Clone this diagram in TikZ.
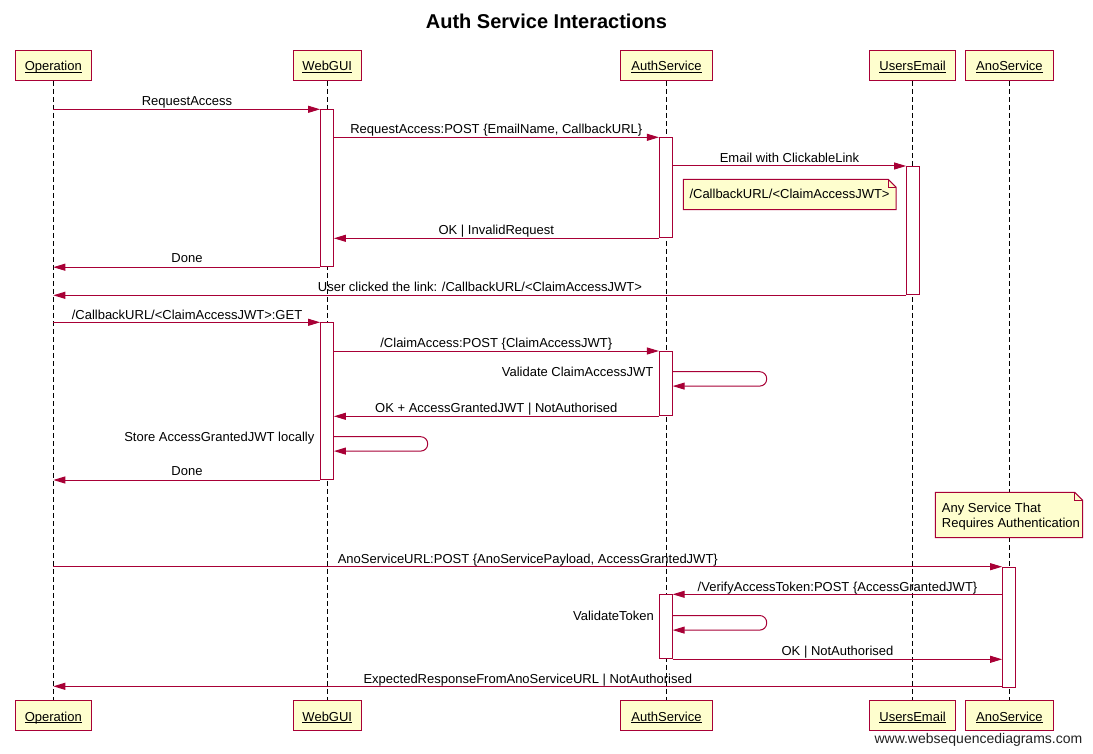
\documentclass[tikz,border=0pt]{standalone}
\usepackage{fontspec}
\setmainfont{Liberation Sans}
\usetikzlibrary{arrows.meta}
\definecolor{wsd}{HTML}{A80036}
\definecolor{wsdfill}{HTML}{FEFECE}
\definecolor{footgray}{HTML}{222222}
\newcommand\undl[1]{\setbox0\hbox{#1}\rlap{\rule[-1.9pt]{\wd0}{0.8pt}}\box0}
\tikzset{
  actor/.style={draw=wsd, fill=wsdfill, line width=1pt, minimum height=30.3pt,
    inner sep=0pt, text height=13pt, text depth=1.4pt, font=\fontsize{13}{15}\selectfont},
  lifeline/.style={draw=black, dash pattern=on 5pt off 3pt, line width=1pt},
  actbar/.style={draw=wsd, fill=white, line width=1pt, minimum width=12.8pt,
    inner sep=0pt, anchor=north},
  msg/.style={draw=wsd, line width=1pt, -{Triangle[length=12pt,width=7pt]}},
  lbl/.style={font=\fontsize{13}{15}\selectfont, inner sep=0pt, anchor=base},
  notebox/.style={draw=none, inner sep=0pt, anchor=north west},
  notedraw/.style={draw=wsd, fill=wsdfill, line width=1pt},
  foldline/.style={draw=wsd, line width=0.8pt},
}
\begin{document}
\begin{tikzpicture}[x=1pt,y=-1pt]
\useasboundingbox[fill=white] (0,0) rectangle (1093,754);

\node[inner sep=0pt, anchor=base, font=\fontsize{20}{24}\selectfont\bfseries] (title) at (546.5,28.8) {Auth Service Interactions};

% actors top
\node[actor, minimum width=76] (op) at (53.3,65.2) {\undl{Operation}};
\node[actor, minimum width=68] (web) at (327.3,65.2) {\undl{WebGUI}};
\node[actor, minimum width=92.4] (auth) at (666.5,65.2) {\undl{AuthService}};
\node[actor, minimum width=85.7] (usr) at (912.6,65.2) {\undl{UsersEmail}};
\node[actor, minimum width=88.4] (ano) at (1009.4,65.2) {\undl{AnoService}};
% actors bottom
\node[actor, minimum width=76] (opb) at (53.3,715.2) {\undl{Operation}};
\node[actor, minimum width=68] (webb) at (327.3,715.2) {\undl{WebGUI}};
\node[actor, minimum width=92.4] (authb) at (666.5,715.2) {\undl{AuthService}};
\node[actor, minimum width=85.7] (usrb) at (912.6,715.2) {\undl{UsersEmail}};
\node[actor, minimum width=88.4] (anob) at (1009.4,715.2) {\undl{AnoService}};

% lifelines
\draw[lifeline] (op.south) -- (opb.north);
\draw[lifeline] (web.south) -- (webb.north);
\draw[lifeline] (auth.south) -- (authb.north);
\draw[lifeline] (usr.south) -- (usrb.north);
\draw[lifeline] (ano.south) -- (anob.north);

% activation bars
\node[actbar, minimum height=156.9] (w1) at (327,109.3) {};
\node[actbar, minimum height=100] (a1) at (665.8,137.3) {};
\node[actbar, minimum height=128.3] (u1) at (913,166) {};
\node[actbar, minimum height=156.7] (w2) at (327,322.3) {};
\node[actbar, minimum height=64.3] (a2) at (665.8,351) {};
\node[actbar, minimum height=120.3] (n1) at (1009,566.7) {};
\node[actbar, minimum height=64] (a3) at (665.8,594.3) {};

% note 1
\node[notebox, minimum width=212.4, minimum height=30] (note1) at (683.3,179.3) {};
\draw[notedraw] (note1.north west) -- ([xshift=-8pt]note1.north east) -- ([yshift=-8pt]note1.north east) -- (note1.south east) -- (note1.south west) -- cycle;
\draw[foldline] ([xshift=-8pt]note1.north east) |- ([yshift=-8pt]note1.north east);
\node[lbl, anchor=base west] (note1t) at (689.3,198.8) {/CallbackURL/<ClaimAccessJWT>};

% note 2
\node[notebox, minimum width=147, minimum height=45] (note2) at (935.3,492.3) {};
\draw[notedraw] (note2.north west) -- ([xshift=-8pt]note2.north east) -- ([yshift=-8pt]note2.north east) -- (note2.south east) -- (note2.south west) -- cycle;
\draw[foldline] ([xshift=-8pt]note2.north east) |- ([yshift=-8pt]note2.north east);
\node[lbl, anchor=base west] (note2a) at (941.7,512.2) {Any Service That};
\node[lbl, anchor=base west] (note2b) at (941.7,527.2) {Requires Authentication};

% messages
\draw[msg] (op.south |- w1.north) -- (w1.north west);
\node[lbl] (l1) at (187,106) {RequestAccess};

\draw[msg] (w1.east |- a1.north) -- (a1.north west);
\node[lbl] (l2) at (496.3,134) {RequestAccess:POST \{EmailName, CallbackURL\}};

\draw[msg] (a1.east |- u1.north) -- (u1.north west);
\node[lbl] (l3) at (789.5,162.8) {Email with ClickableLink};

\draw[msg] (a1.south west) -- (w1.east |- a1.south);
\node[lbl] (l4) at (496.3,234.2) {OK | InvalidRequest};

\draw[msg] (w1.south west) -- (op.south |- w1.south);
\node[lbl] (l5) at (187,263) {Done};

\draw[msg] (u1.south west) -- (op.south |- u1.south);
\node[lbl] (l6) at (480,291.1) {User clicked the link: /CallbackURL/<ClaimAccessJWT>};

\draw[msg] (op.south |- w2.north) -- (w2.north west);
\node[lbl] (l7) at (187,319.1) {/CallbackURL/<ClaimAccessJWT>:GET};

\draw[msg] (w2.east |- a2.north) -- (a2.north west);
\node[lbl] (l8) at (496.3,347.8) {/ClaimAccess:POST \{ClaimAccessJWT\}};

\coordinate (a2r) at (766.7,371.7);
\draw[msg, rounded corners=7pt] (a2.east |- a2r) -- (a2r) -- ++(0,14.4) -- (a2.east |- 0,386.1);
\node[lbl, anchor=base east] (l9) at (653.5,376.6) {Validate ClaimAccessJWT};

\draw[msg] (a2.south west) -- (w2.east |- a2.south);
\node[lbl] (l10) at (496.3,412.1) {OK + AccessGrantedJWT | NotAuthorised};

\coordinate (w2r) at (427.7,436.7);
\draw[msg, rounded corners=7pt] (w2.east |- w2r) -- (w2r) -- ++(0,14.4) -- (w2.east |- 0,451.1);
\node[lbl, anchor=base east] (l11) at (314.5,441.7) {Store AccessGrantedJWT locally};

\draw[msg] (w2.south west) -- (op.south |- w2.south);
\node[lbl] (l12) at (187,475.8) {Done};

\draw[msg] (op.south |- n1.north) -- (n1.north west);
\node[lbl] (l13) at (527.8,563.5) {AnoServiceURL:POST \{AnoServicePayload, AccessGrantedJWT\}};

\draw[msg] (n1.west |- a3.north) -- (a3.north east);
\node[lbl] (l14) at (837.5,591.1) {/VerifyAccessToken:POST \{AccessGrantedJWT\}};

\coordinate (a3r) at (766.7,615.5);
\draw[msg, rounded corners=7pt] (a3.east |- a3r) -- (a3r) -- ++(0,14.6) -- (a3.east |- 0,630.1);
\node[lbl, anchor=base east] (l15) at (654,620.4) {ValidateToken};

\draw[msg] (a3.south east) -- (n1.west |- a3.south);
\node[lbl] (l16) at (837.5,655.1) {OK | NotAuthorised};

\draw[msg] (n1.west |- 0,686.3) -- (op.south |- 0,686.3);
\node[lbl] (l17) at (527.8,683) {ExpectedResponseFromAnoServiceURL | NotAuthorised};

\node[inner sep=0pt, anchor=base east, text=footgray, font=\fontsize{14}{16}\selectfont] (footer) at (1082.5,743.3) {www.websequencediagrams.com};
\end{tikzpicture}
\end{document}
